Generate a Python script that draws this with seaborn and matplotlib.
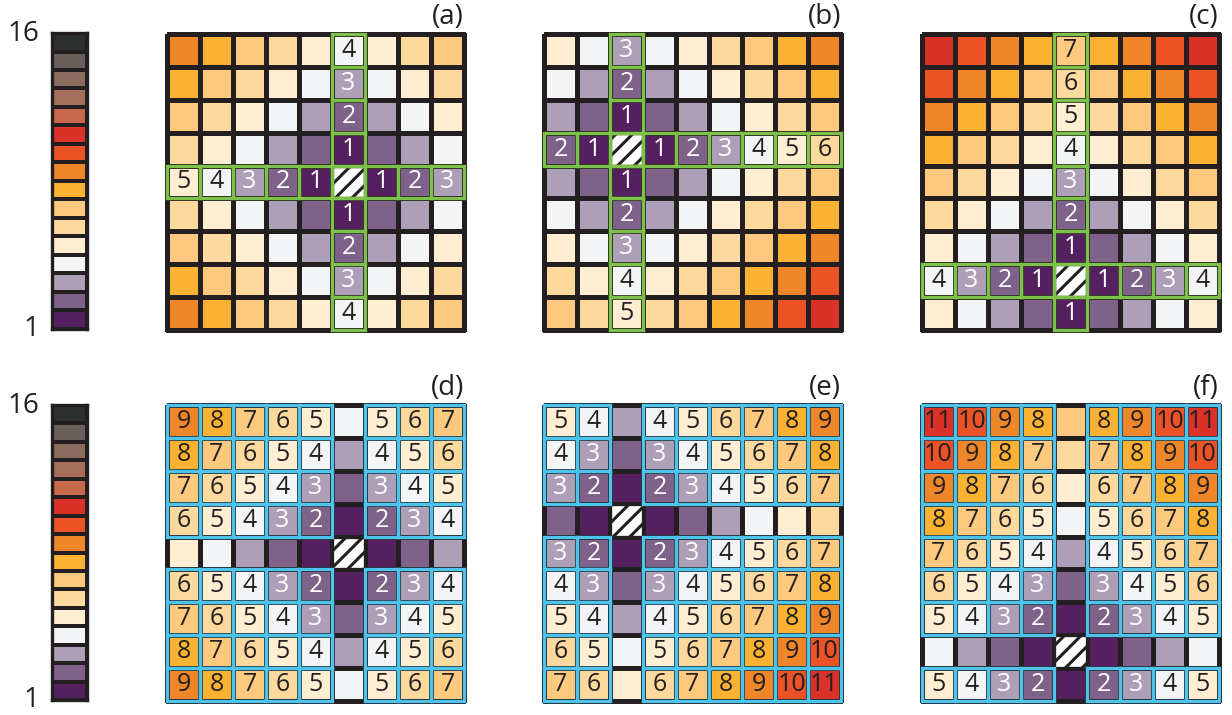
# Distance grids around a reference cell (Manhattan steps), 16-level palette
import matplotlib
matplotlib.use("Agg")
import matplotlib.pyplot as plt
from matplotlib.colors import ListedColormap
from matplotlib.patches import Rectangle
import numpy as np
import seaborn as sns

sns.set_theme(style="white")
plt.rcParams["font.family"] = ["Open Sans", "DejaVu Sans"]
plt.rcParams["hatch.linewidth"] = 2.2

# ---- data -----------------------------------------------------------------
level_colors = [
    "#55205F", "#7E6289", "#AE9FB8", "#F3F4F6", "#FFEED2", "#FED99E",
    "#FCC97F", "#FBB233", "#F0862A", "#EB5327", "#DA3129", "#C8684C",
    "#A56E5C", "#8B6C5F", "#6A605B", "#2C302F",
]
levels = [1, 2, 3, 4, 5, 6, 7, 8, 9, 10, 11, 12, 13, 14, 15, 16]
cbar_labels = ["16", "1"]

# 0 marks the reference (hatched) cell
grid_a = [
    [9, 8, 7, 6, 5, 4, 5, 6, 7],
    [8, 7, 6, 5, 4, 3, 4, 5, 6],
    [7, 6, 5, 4, 3, 2, 3, 4, 5],
    [6, 5, 4, 3, 2, 1, 2, 3, 4],
    [5, 4, 3, 2, 1, 0, 1, 2, 3],
    [6, 5, 4, 3, 2, 1, 2, 3, 4],
    [7, 6, 5, 4, 3, 2, 3, 4, 5],
    [8, 7, 6, 5, 4, 3, 4, 5, 6],
    [9, 8, 7, 6, 5, 4, 5, 6, 7],
]
grid_b = [
    [5, 4, 3, 4, 5, 6, 7, 8, 9],
    [4, 3, 2, 3, 4, 5, 6, 7, 8],
    [3, 2, 1, 2, 3, 4, 5, 6, 7],
    [2, 1, 0, 1, 2, 3, 4, 5, 6],
    [3, 2, 1, 2, 3, 4, 5, 6, 7],
    [4, 3, 2, 3, 4, 5, 6, 7, 8],
    [5, 4, 3, 4, 5, 6, 7, 8, 9],
    [6, 5, 4, 5, 6, 7, 8, 9, 10],
    [7, 6, 5, 6, 7, 8, 9, 10, 11],
]
grid_c = [
    [11, 10, 9, 8, 7, 8, 9, 10, 11],
    [10, 9, 8, 7, 6, 7, 8, 9, 10],
    [9, 8, 7, 6, 5, 6, 7, 8, 9],
    [8, 7, 6, 5, 4, 5, 6, 7, 8],
    [7, 6, 5, 4, 3, 4, 5, 6, 7],
    [6, 5, 4, 3, 2, 3, 4, 5, 6],
    [5, 4, 3, 2, 1, 2, 3, 4, 5],
    [4, 3, 2, 1, 0, 1, 2, 3, 4],
    [5, 4, 3, 2, 1, 2, 3, 4, 5],
]
top_labels = ["(a)", "(b)", "(c)"]
bottom_labels = ["(d)", "(e)", "(f)"]

# ---- style ----------------------------------------------------------------
BLACK = "#231F20"
GREEN = "#7DC14B"
CYAN = "#4EC4EC"
LW = 2.4
cmap = ListedColormap(level_colors)
W, H = 1232, 715


def px_axes(fig, x0, y0, x1, y1):
    return fig.add_axes([x0 / W, 1 - y1 / H, (x1 - x0) / W, (y1 - y0) / H])


def draw_panel(ax, grid, label, show_cross):
    vals = np.array(grid, dtype=float)
    hr, hc = np.argwhere(vals == 0)[0]
    nr, nc = vals.shape
    rows = np.arange(nr)[:, None]
    cols = np.arange(nc)[None, :]
    cross = (rows == hr) | (cols == hc)
    show = cross if show_cross else ~cross
    annot = np.where(show & (vals > 0), vals.astype(int).astype(str), "")

    sns.heatmap(
        vals, mask=vals == 0, cmap=cmap, vmin=0.5, vmax=len(levels) + 0.5,
        cbar=False, linewidths=LW, linecolor=BLACK,
        annot=annot, fmt="", annot_kws={"fontsize": 18},
        xticklabels=False, yticklabels=False, ax=ax,
    )
    ax.collections[0].set_clip_on(False)
    # white numbers on the purple levels, dark ones elsewhere
    for t in ax.texts:
        if t.get_text():
            t.set_color("white" if int(t.get_text()) <= 3 else BLACK)

    # hatched reference cell
    ax.add_patch(Rectangle((hc, hr), 1, 1, facecolor="white", edgecolor=BLACK,
                           hatch="//", lw=LW, zorder=2, clip_on=False))

    edge = GREEN if show_cross else CYAN
    for r in range(nr):
        for c in range(nc):
            if show[r, c]:
                ax.add_patch(Rectangle((c, r), 1, 1, fill=False, edgecolor=edge,
                                       lw=LW, zorder=4, clip_on=False))
    ax.text(1.0, 1.01, label, transform=ax.transAxes, ha="right",
            va="bottom", fontsize=20, color=BLACK)


def draw_colorbar(ax):
    col = np.array(levels[::-1], dtype=float).reshape(-1, 1)
    sns.heatmap(col, cmap=cmap, vmin=0.5, vmax=len(levels) + 0.5, cbar=False,
                linewidths=1.6, linecolor=BLACK, xticklabels=False,
                yticklabels=False, ax=ax)
    for s in ax.spines.values():
        s.set_visible(True)
        s.set_color(BLACK)
        s.set_linewidth(2.4)
    ax.text(-0.36, 0.995, cbar_labels[0], transform=ax.transAxes, ha="right",
            va="center", fontsize=20, color=BLACK)
    ax.text(-0.36, 0.0, cbar_labels[1], transform=ax.transAxes, ha="right",
            va="center", fontsize=20, color=BLACK)


fig = plt.figure(figsize=(W / 100, H / 100), dpi=100)

lefts = [167, 544, 922]
size = 297
grids = [grid_a, grid_b, grid_c]

for x0, g, lab in zip(lefts, grids, top_labels):
    draw_panel(px_axes(fig, x0, 34, x0 + size, 34 + size - 1), g, lab, True)
for x0, g, lab in zip(lefts, grids, bottom_labels):
    draw_panel(px_axes(fig, x0, 405, x0 + size, 405 + size - 1), g, lab, False)

draw_colorbar(px_axes(fig, 52, 33, 87, 329))
draw_colorbar(px_axes(fig, 52, 405, 87, 700))

fig.savefig("out.png", dpi=100)
